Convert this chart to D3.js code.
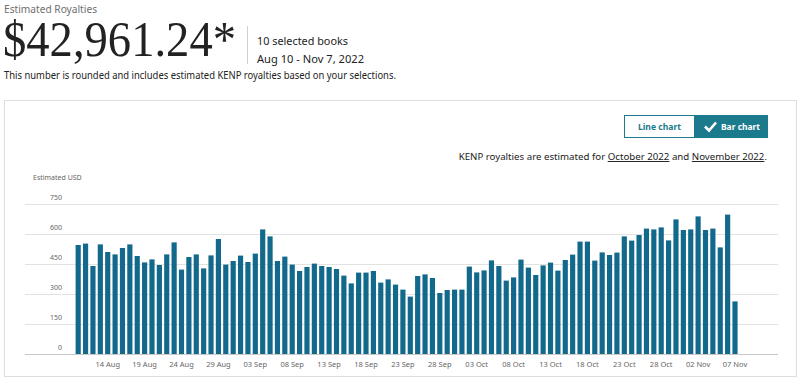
<!DOCTYPE html>
<html>
<head>
<meta charset="utf-8">
<script src="https://cdn.jsdelivr.net/npm/d3@7"></script>
<style>
  html, body { margin: 0; padding: 0; background: #fff; }
  svg { display: block; font-family: "Noto Sans", "Open Sans", sans-serif; }
</style>
</head>
<body>
<svg id="chart" width="800" height="383"></svg>
<script>
// ---- Data ----
const startDate = "2022-08-10";
const endDate = "2022-11-07";
const augValues = [545,552,440,548,510,498,530,548,490,458,473,445,498,558,422,485,498,428,493,575,447,465];
const sepValues = [492,460,502,623,588,465,487,447,415,435,452,440,435,425,392,353,407,407,415,357,373,347,322,287,390,398,380,305,320,322];
const octValues = [322,437,408,418,468,440,367,383,472,432,395,443,457,417,470,497,562,562,467,508,495,507,588,567,595,627,623,633,568,673,620];
const novValues = [623,688,620,627,533,697,263];
const yTicks = [0,150,300,450,600,750];
const xTickLabels = ["14 Aug","19 Aug","24 Aug","29 Aug","03 Sep","08 Sep","13 Sep","18 Sep","23 Sep","28 Sep","03 Oct","08 Oct","13 Oct","18 Oct","23 Oct","28 Oct","02 Nov","07 Nov"];

const values = [].concat(augValues, sepValues, octValues, novValues);
const parse = d3.utcParse("%Y-%m-%d");
const dates = d3.utcDay.range(parse(startDate), d3.utcDay.offset(parse(endDate), 1));
const fmt = d3.utcFormat("%d %b");
const data = dates.map((d, i) => ({ key: fmt(d), value: values[i] }));

const svg = d3.select("#chart");
const barColor = "#12698b";
const teal = "#1b7a8b";

// ---- Header ----
svg.append("text").attr("x", 4).attr("y", 13).attr("font-size", 10).attr("fill", "#707070")
  .attr("textLength", 93).attr("lengthAdjust", "spacingAndGlyphs")
  .text("Estimated Royalties");
svg.append("text").attr("x", 3).attr("y", 56)
  .attr("font-family", "'Liberation Serif', 'DejaVu Serif', serif")
  .attr("font-size", 50).attr("fill", "#222")
  .attr("textLength", 233).attr("lengthAdjust", "spacingAndGlyphs")
  .text("$42,961.24*");
svg.append("line").attr("x1", 247.5).attr("x2", 247.5).attr("y1", 26).attr("y2", 64)
  .attr("stroke", "#cfcfcf").attr("stroke-width", 1);
svg.append("text").attr("x", 257).attr("y", 45).attr("font-size", 11).attr("fill", "#222")
  .attr("textLength", 91).attr("lengthAdjust", "spacingAndGlyphs")
  .text("10 selected books");
svg.append("text").attr("x", 257).attr("y", 63).attr("font-size", 11).attr("fill", "#222")
  .attr("textLength", 107).attr("lengthAdjust", "spacingAndGlyphs")
  .text("Aug 10 - Nov 7, 2022");
svg.append("text").attr("x", 4).attr("y", 79).attr("font-size", 10.5).attr("fill", "#222")
  .attr("textLength", 392).attr("lengthAdjust", "spacingAndGlyphs")
  .text("This number is rounded and includes estimated KENP royalties based on your selections.");

// ---- Panel ----
svg.append("rect").attr("x", 4.5).attr("y", 100.5).attr("width", 792).attr("height", 276)
  .attr("fill", "#fff").attr("stroke", "#dedede");

// ---- Toggle buttons ----
svg.append("rect").attr("x", 624.5).attr("y", 115.5).attr("width", 70).attr("height", 22)
  .attr("fill", "#fff").attr("stroke", teal);
svg.append("rect").attr("x", 694.5).attr("y", 115.5).attr("width", 73).attr("height", 22)
  .attr("fill", teal).attr("stroke", teal);
svg.append("text").attr("x", 638).attr("y", 130)
  .attr("font-size", 9.5).attr("font-weight", "bold").attr("fill", teal)
  .attr("textLength", 43).attr("lengthAdjust", "spacingAndGlyphs").text("Line chart");
svg.append("path").attr("d", "M705,126.5 L709,130.5 L716,122.5")
  .attr("fill", "none").attr("stroke", "#fff").attr("stroke-width", 2.6);
svg.append("text").attr("x", 721).attr("y", 130)
  .attr("font-size", 9.5).attr("font-weight", "bold").attr("fill", "#fff")
  .attr("textLength", 39).attr("lengthAdjust", "spacingAndGlyphs").text("Bar chart");

// ---- KENP note ----
const note = svg.append("text").attr("x", 767).attr("y", 160).attr("text-anchor", "end")
  .attr("font-size", 9.7).attr("fill", "#222");
note.append("tspan").text("KENP royalties are estimated for ");
note.append("tspan").attr("text-decoration", "underline").text("October 2022");
note.append("tspan").text(" and ");
note.append("tspan").attr("text-decoration", "underline").text("November 2022");
note.append("tspan").text(".");

// ---- Scales ----
const x = d3.scaleBand().domain(data.map(d => d.key)).range([74.5, 738.7])
  .paddingInner(0.3).paddingOuter(0.15);
const y = d3.scaleLinear().domain([0, 750]).range([354, 204]);

svg.append("text").attr("x", 33).attr("y", 180).attr("font-size", 7).attr("fill", "#666")
  .text("Estimated USD");

// grid
const grid = svg.append("g");
grid.selectAll("line").data(yTicks).join("line")
  .attr("x1", 25).attr("x2", 778)
  .attr("y1", d => Math.round(y(d)) + 0.5).attr("y2", d => Math.round(y(d)) + 0.5)
  .attr("stroke", d => d === 0 ? "#c8c8c8" : "#e2e2e2");
grid.selectAll("text").data(yTicks).join("text")
  .attr("x", 62).attr("y", d => y(d) - 4).attr("text-anchor", "end")
  .attr("font-size", 7).attr("fill", "#666").text(d => d);

// bars
svg.append("g").selectAll("rect").data(data).join("rect")
  .attr("x", d => x(d.key)).attr("width", x.bandwidth())
  .attr("y", d => y(d.value)).attr("height", d => y(0) - y(d.value))
  .attr("fill", barColor);

// x axis labels
const xAxis = d3.axisBottom(x).tickValues(xTickLabels).tickSize(0).tickPadding(0);
const gx = svg.append("g").attr("transform", "translate(0,362)").call(xAxis);
gx.select(".domain").remove();
gx.selectAll("text").attr("font-size", 7.5).attr("fill", "#666")
  .attr("font-family", "'Noto Sans', sans-serif");
</script>
</body>
</html>
